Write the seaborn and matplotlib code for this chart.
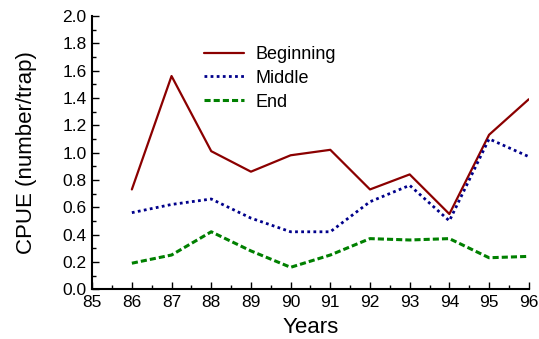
import matplotlib
matplotlib.use("Agg")
import matplotlib.pyplot as plt
from matplotlib.ticker import MultipleLocator
import seaborn as sns
import pandas as pd

years = [86, 87, 88, 89, 90, 91, 92, 93, 94, 95, 96]
beginning = [0.73, 1.56, 1.01, 0.86, 0.98, 1.02, 0.73, 0.84, 0.55, 1.13, 1.39]
middle = [0.56, 0.62, 0.66, 0.52, 0.42, 0.42, 0.64, 0.76, 0.50, 1.10, 0.97]
end = [0.19, 0.25, 0.42, 0.28, 0.16, 0.25, 0.37, 0.36, 0.37, 0.23, 0.24]

sns.set_style("ticks", {"axes.edgecolor": "black", "text.color": "black",
                        "axes.labelcolor": "black", "xtick.color": "black",
                        "ytick.color": "black"})
plt.rcParams["font.family"] = ["Liberation Sans", "DejaVu Sans"]

df = pd.DataFrame({"Years": years * 3,
                   "CPUE": beginning + middle + end,
                   "Period": ["Beginning"] * 11 + ["Middle"] * 11 + ["End"] * 11})

fig = plt.figure(figsize=(5.39, 3.39), dpi=100)
ax = fig.add_axes([0.171, 0.147, 0.810, 0.806])

styles = {"Beginning": dict(color="#8b0000", ls="-", lw=1.6),
          "Middle": dict(color="#00008b", ls=(0, (1, 1.2)), lw=2.0),
          "End": dict(color="#008000", ls=(0, (2, 1)), lw=2.2)}
for name in ["Beginning", "Middle", "End"]:
    sub = df[df["Period"] == name]
    sns.lineplot(data=sub, x="Years", y="CPUE", ax=ax, label=name, **styles[name])

ax.set_xlim(85, 96)
ax.set_ylim(0, 2.0)
ax.xaxis.set_major_locator(MultipleLocator(1))
ax.xaxis.set_minor_locator(MultipleLocator(0.5))
ax.yaxis.set_major_locator(MultipleLocator(0.2))
ax.yaxis.set_minor_locator(MultipleLocator(0.1))
ax.yaxis.set_major_formatter(matplotlib.ticker.FormatStrFormatter("%.1f"))
ax.tick_params(which="major", direction="in", length=5, width=1, labelsize=12.5, pad=4)
ax.tick_params(which="minor", direction="in", length=3, width=1)
for s in ["left", "bottom"]:
    ax.spines[s].set_linewidth(1.5)
sns.despine(ax=ax)
ax.set_xlabel("Years", fontsize=16, labelpad=5)
ax.set_ylabel("CPUE (number/trap)", fontsize=16, labelpad=18)

leg = ax.legend(loc="upper left", bbox_to_anchor=(0.22, 0.95), frameon=False,
                fontsize=13, handlelength=2.2, handletextpad=0.65, labelspacing=0.38)

fig.savefig("out.png", dpi=100)
